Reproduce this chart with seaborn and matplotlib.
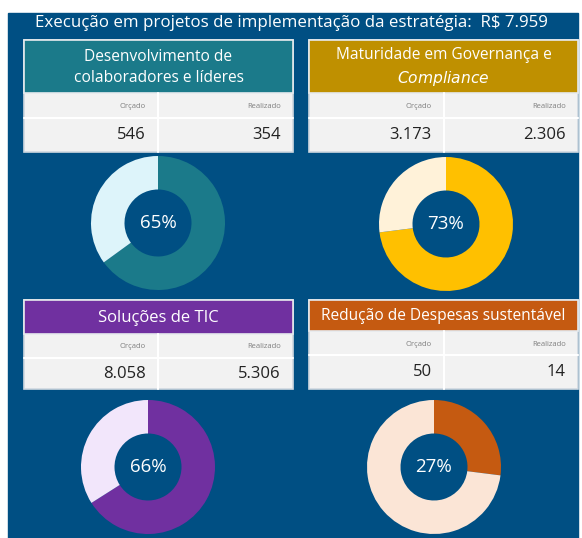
import numpy as np
import pandas as pd
import matplotlib
matplotlib.use('Agg')
import matplotlib.pyplot as plt
from matplotlib.patches import Rectangle
import seaborn as sns

# dados
titulo = 'Execução em projetos de implementação da estratégia:  R$ 7.959'
categorias = ['Desenvolvimento de\ncolaboradores e líderes',
              'Maturidade em Governança e\n$\\it{Compliance}$',
              'Soluções de TIC',
              'Redução de Despesas sustentável']
orcado = ['546', '3.173', '8.058', '50']
realizado = ['354', '2.306', '5.306', '14']
percentual = [65, 73, 66, 27]

cores_fortes = ['#1B7A8A', '#BF9000', '#7030A0', '#C55A11']
cores_donut = ['#1B7A8A', '#FFC000', '#7030A0', '#C55A11']
cores_claras = ['#DDF4FA', '#FFF2D9', '#F2E6FB', '#FBE5D6']
fundo = '#004F83'

sns.set_theme(style='white')
plt.rcParams['font.family'] = ['Open Sans', 'DejaVu Sans']

W, H = 582, 538
fig = plt.figure(figsize=(W / 100, H / 100), dpi=100)
fig.patch.set_facecolor('white')
base = fig.add_axes([0, 0, 1, 1])
base.set_xlim(0, W)
base.set_ylim(H, 0)
base.axis('off')

base.add_patch(Rectangle((8, 13), 570, 525, color=fundo, zorder=0))
base.text(291, 23, titulo, color='white', fontsize=12.2, ha='center', va='center')

# layout dos cartões (pixels)
cards = [
    dict(x=24, y=40, w=269, hdr=53, r1=25, r2=34, div=158, fs=11.2),
    dict(x=309, y=40, w=269, hdr=53, r1=25, r2=34, div=444, fs=11.2),
    dict(x=24, y=300, w=269, hdr=34, r1=24, r2=31, div=158, fs=12),
    dict(x=309, y=300, w=269, hdr=31, r1=24, r2=34, div=444, fs=11.2),
]
donuts = [(158, 223), (446, 224), (148, 467), (434, 467)]
raio = 67

for i, c in enumerate(cards):
    x, y, w = c['x'], c['y'], c['w']
    hy = y + c['hdr']
    ry = hy + c['r1']
    by = ry + c['r2']
    base.add_patch(Rectangle((x, y), w, by - y, facecolor='#F2F2F2',
                             edgecolor='#D0D8E0', lw=1.2, zorder=1))
    base.add_patch(Rectangle((x, y), w, c['hdr'], facecolor=cores_fortes[i],
                             edgecolor='#E6EAEE', lw=1.2, zorder=2))
    base.plot([x, x + w], [ry, ry], color='white', lw=1.5, zorder=3)
    base.plot([c['div'], c['div']], [hy, by], color='white', lw=1.5, zorder=3)
    base.text(x + w / 2, y + c['hdr'] / 2 + 1, categorias[i], color='white',
              fontsize=c['fs'], ha='center', va='center', linespacing=1.45, zorder=4)
    base.text(c['div'] - 12, (hy + ry) / 2 + 1, 'Orçado', color='#7F7F7F',
              fontsize=5.5, ha='right', va='center', zorder=4)
    base.text(x + w - 12, (hy + ry) / 2 + 1, 'Realizado', color='#7F7F7F',
              fontsize=5.5, ha='right', va='center', zorder=4)
    base.text(c['div'] - 12, (ry + by) / 2, orcado[i], color='#222222',
              fontsize=12, ha='right', va='center', zorder=4)
    base.text(x + w - 12, (ry + by) / 2, realizado[i], color='#222222',
              fontsize=12, ha='right', va='center', zorder=4)

    # donut
    cx, cy = donuts[i]
    ax = fig.add_axes([(cx - raio) / W, 1 - (cy + raio) / H, 2 * raio / W, 2 * raio / H])
    p = percentual[i]
    ax.pie([p, 100 - p], colors=[cores_donut[i], cores_claras[i]], startangle=90,
           counterclock=False, radius=1, wedgeprops=dict(width=0.5, linewidth=0))
    ax.set_xlim(-1, 1)
    ax.set_ylim(-1, 1)
    ax.set_facecolor('none')
    ax.text(0, 0, f'{p}%', color='white', fontsize=13.5, ha='center', va='center')

fig.savefig('out.png', dpi=100, facecolor='white')
